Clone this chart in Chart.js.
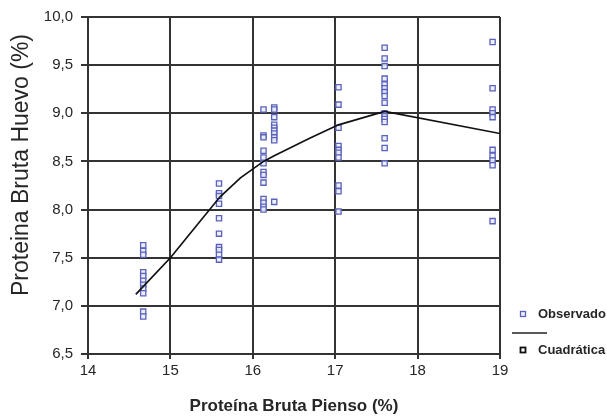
<!DOCTYPE html>
<html>
<head>
<meta charset="utf-8">
<script src="https://cdn.jsdelivr.net/npm/chart.js@4.4.1/dist/chart.umd.min.js"></script>
<style>
  html, body { margin: 0; padding: 0; background: #ffffff; }
  #wrap { width: 607px; height: 419px; position: relative; }
</style>
</head>
<body>
<div id="wrap"><canvas id="c" width="607" height="419"></canvas></div>
<script>
// ---- Data ----
const xTickValues = [14, 15, 16, 17, 18, 19];
const xTickLabels = ['14', '15', '16', '17', '18', '19'];
const yTickValues = [6.5, 7.0, 7.5, 8.0, 8.5, 9.0, 9.5, 10.0];
const yTickLabels = ['6,5', '7,0', '7,5', '8,0', '8,5', '9,0', '9,5', '10,0'];

// Observed: feed protein level (x) and egg protein values (y) per group
const groupX = [14.67, 15.59, 16.13, 16.26, 17.04, 17.6, 18.91];
const obs1467 = [7.63, 7.57, 7.53, 7.35, 7.31, 7.26, 7.22, 7.18, 7.13, 6.94, 6.89];
const obs1559 = [8.27, 8.17, 8.14, 8.06, 7.91, 7.75, 7.61, 7.58, 7.53, 7.48];
const obs1613 = [9.04, 8.77, 8.75, 8.61, 8.54, 8.48, 8.39, 8.36, 8.28, 8.11, 8.07, 8.03, 8.00];
const obs1626 = [9.06, 9.04, 8.96, 8.88, 8.85, 8.82, 8.79, 8.75, 8.72, 8.08];
const obs1704 = [9.27, 9.09, 8.85, 8.66, 8.62, 8.59, 8.54, 8.25, 8.19, 7.98];
const obs1760 = [9.68, 9.57, 9.49, 9.36, 9.30, 9.26, 9.22, 9.18, 9.11, 9.00, 8.97, 8.94, 8.91, 8.74, 8.64, 8.48];
const obs1891 = [9.74, 9.26, 9.04, 9.00, 8.96, 8.62, 8.56, 8.51, 8.46, 7.88];
const obsGroups = [obs1467, obs1559, obs1613, obs1626, obs1704, obs1760, obs1891];

// Quadratic fit line
const fitX = [14.58, 15.0, 15.6, 15.85, 16.13, 16.26, 16.69, 17.04, 17.6, 19.0];
const fitY = [7.12, 7.50, 8.13, 8.33, 8.50, 8.56, 8.74, 8.88, 9.02, 8.79];

const legendLabels = ['Observado', 'Cuadrática'];
const xTitle = 'Proteína Bruta Pienso (%)';
const yTitle = 'Proteina Bruta Huevo (%)';

// ---- Build datasets ----
const obsPoints = [];
obsGroups.forEach((g, i) => g.forEach(v => obsPoints.push({ x: groupX[i], y: v })));
const fitPoints = fitX.map((x, i) => ({ x: x, y: fitY[i] }));

const blue = '#5a62bc';
const gridColor = '#333333';
const textColor = '#262626';
const fontFamily = '"Liberation Sans", Arial, Helvetica, sans-serif';

const customDraw = {
  id: 'customDraw',
  afterDraw(chart) {
    const ctx = chart.ctx;
    ctx.save();
    // Y axis title
    ctx.translate(22, 165);
    ctx.rotate(-Math.PI / 2);
    ctx.fillStyle = textColor;
    ctx.font = '23px ' + fontFamily;
    ctx.textAlign = 'center';
    ctx.textBaseline = 'middle';
    ctx.fillText(yTitle, 0, 0);
    ctx.restore();

    // Legend
    ctx.save();
    const lx = 523, ly1 = 314, ly2 = 350;
    ctx.lineWidth = 1.3;
    ctx.strokeStyle = blue;
    ctx.fillStyle = '#eef0fb';
    ctx.fillRect(lx - 2.5, ly1 - 2.5, 5, 5);
    ctx.strokeRect(lx - 2.5, ly1 - 2.5, 5, 5);
    ctx.strokeStyle = '#111';
    ctx.lineWidth = 1.8;
    ctx.fillStyle = '#ffffff';
    ctx.fillRect(lx - 2.5, ly2 - 2.5, 5, 5);
    ctx.strokeRect(lx - 2.5, ly2 - 2.5, 5, 5);
    ctx.beginPath();
    ctx.moveTo(512, 333);
    ctx.lineTo(547, 333);
    ctx.lineWidth = 1.6;
    ctx.strokeStyle = '#222';
    ctx.stroke();
    ctx.fillStyle = textColor;
    ctx.font = 'bold 13px ' + fontFamily;
    ctx.textAlign = 'left';
    ctx.textBaseline = 'middle';
    ctx.fillText(legendLabels[0], 538, ly1);
    ctx.fillText(legendLabels[1], 538, ly2);
    ctx.restore();
  }
};

new Chart(document.getElementById('c'), {
  type: 'scatter',
  data: {
    datasets: [
      {
        label: legendLabels[1],
        type: 'line',
        data: fitPoints,
        borderColor: '#111111',
        borderWidth: 1.7,
        pointRadius: 0,
        tension: 0,
        fill: false,
        order: 0
      },
      {
        label: legendLabels[0],
        data: obsPoints,
        pointStyle: 'rect',
        pointRadius: 3.7,
        pointBorderWidth: 1.3,
        borderColor: blue,
        backgroundColor: 'rgba(235,237,250,0.9)',
        order: 1
      }
    ]
  },
  options: {
    responsive: false,
    animation: false,
    devicePixelRatio: 1,
    layout: { padding: { left: 0, right: 107, top: 11, bottom: 0 } },
    plugins: {
      legend: { display: false },
      tooltip: { enabled: false }
    },
    scales: {
      x: {
        type: 'linear',
        min: 14, max: 19,
        afterBuildTicks: s => { s.ticks = xTickValues.map(v => ({ value: v })); },
        afterFit: s => { s.height = 65; },
        ticks: {
          color: textColor,
          font: { family: fontFamily, size: 15 },
          padding: 3,
          maxRotation: 0,
          callback: (v) => xTickLabels[xTickValues.indexOf(v)]
        },
        grid: { color: gridColor, lineWidth: 2, tickLength: 5, drawTicks: true },
        border: { color: gridColor, width: 2 },
        title: {
          display: true,
          text: xTitle,
          color: textColor,
          font: { family: fontFamily, size: 17, weight: 'bold' },
          padding: { top: 0, bottom: 2 }
        }
      },
      y: {
        type: 'linear',
        min: 6.5, max: 10,
        afterBuildTicks: s => { s.ticks = yTickValues.map(v => ({ value: v })); },
        afterFit: s => { s.width = 88; },
        ticks: {
          color: textColor,
          font: { family: fontFamily, size: 15 },
          padding: 8,
          callback: (v) => yTickLabels[yTickValues.indexOf(v)]
        },
        grid: { color: gridColor, lineWidth: 2, tickLength: 7 },
        border: { color: gridColor, width: 2 }
      }
    }
  },
  plugins: [customDraw]
});
</script>
</body>
</html>
